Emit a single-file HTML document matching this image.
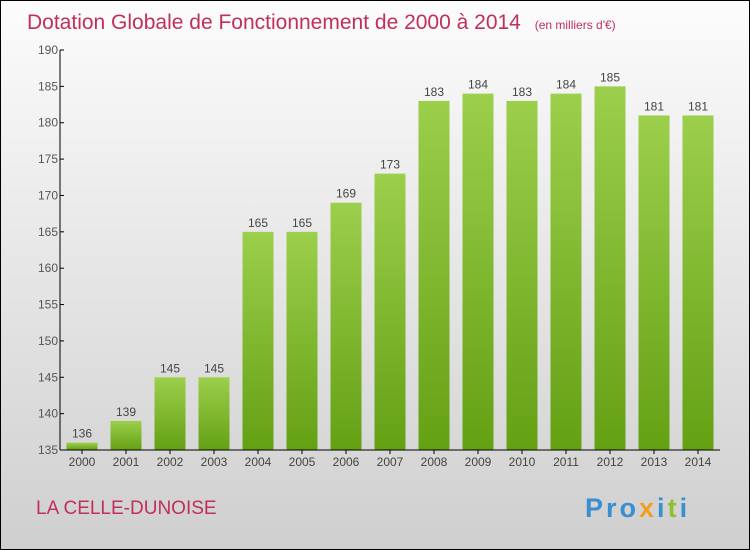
<!DOCTYPE html>
<html><head><meta charset="utf-8"><style>
body{margin:0}
svg{display:block;font-family:"Liberation Sans",sans-serif}
</style></head><body>
<svg width="750" height="550">
<defs>
<linearGradient id="bg" x1="0" y1="0" x2="0" y2="1"><stop offset="0" stop-color="#fcfcfc"/><stop offset="1" stop-color="#cfcfcf"/></linearGradient>
<linearGradient id="bar" x1="0" y1="0" x2="0" y2="1"><stop offset="0" stop-color="#9ccf4c"/><stop offset="1" stop-color="#64a014"/></linearGradient>
</defs>
<rect x="0.5" y="0.5" width="749" height="549" fill="url(#bg)" stroke="#000"/>
<text x="27" y="29" font-size="21" fill="#c0305a">Dotation Globale de Fonctionnement de 2000 à 2014 <tspan font-size="12" dx="8">(en milliers d'€)</tspan></text>
<g id="bars"></g>
<g id="axes"></g>
<text x="36" y="514" font-size="19" fill="#c0305a">LA CELLE-DUNOISE</text>
<text x="585" y="517" font-size="27" font-weight="bold" letter-spacing="3"><tspan fill="#3a8fd0">Pro</tspan><tspan fill="#f0a020">x</tspan><tspan fill="#3a8fd0">i</tspan><tspan fill="#90c030">t</tspan><tspan fill="#3a8fd0">i</tspan></text>
</svg>
<script>
const years=["2000","2001","2002","2003","2004","2005","2006","2007","2008","2009","2010","2011","2012","2013","2014"];
const values=[136,139,145,145,165,165,169,173,183,184,183,184,185,181,181];
const ticks=[135,140,145,150,155,160,165,170,175,180,185,190];
const NS="http://www.w3.org/2000/svg";
const y=v=>450-(v-135)*400/55;
const x=i=>82+i*44;
function mk(t,a,p){const e=document.createElementNS(NS,t);for(const k in a)e.setAttribute(k,a[k]);p.appendChild(e);return e;}
const gb=document.getElementById('bars'),ga=document.getElementById('axes');
values.forEach((v,i)=>{
 const r=mk('rect',{x:x(i)-15.5,y:y(v),width:31,height:450-y(v),fill:'url(#bar)'},gb);
 
 
 const t=mk('text',{x:x(i),y:y(v)-5,'font-size':12,fill:'#444','text-anchor':'middle'},gb);t.textContent=v;
 
 
 const l=mk('text',{x:x(i),y:466,'font-size':12,fill:'#444','text-anchor':'middle'},ga);l.textContent=years[i];
 
 
 mk('line',{x1:x(i),x2:x(i),y1:450,y2:454,stroke:'#000'},ga);
});
ticks.forEach(v=>{
 mk('line',{x1:60,x2:64,y1:y(v),y2:y(v),stroke:'#000'},ga);
 const t=mk('text',{x:58,y:y(v)+4,'font-size':12,fill:'#555','text-anchor':'end'},ga);t.textContent=v;
 
 
});
const ya=mk('line',{x1:60,x2:60,y1:50,y2:450,stroke:'#000'},ga);


const xa=mk('line',{x1:60,x2:720,y1:450,y2:450,stroke:'#000'},ga);


</script>
</body></html>
